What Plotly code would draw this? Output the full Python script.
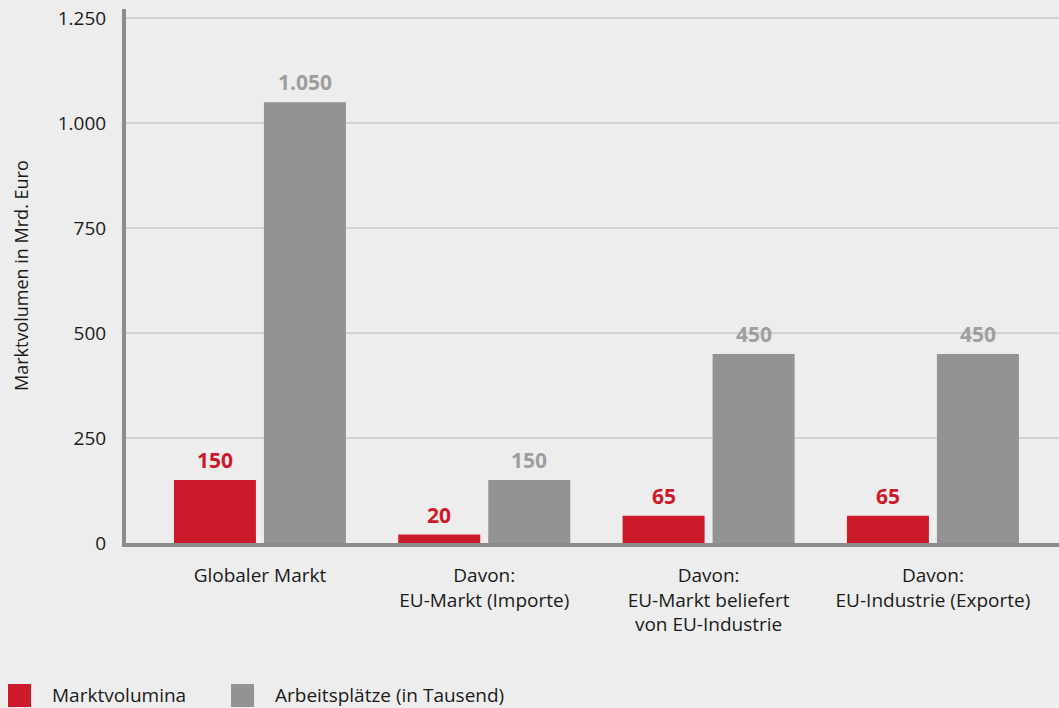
import plotly.graph_objects as go

categories = ["Globaler Markt", "Davon:<br>EU-Markt (Importe)",
              "Davon:<br>EU-Markt beliefert<br>von EU-Industrie",
              "Davon:<br>EU-Industrie (Exporte)"]
markt = [150, 20, 65, 65]
arbeit = [1050, 150, 450, 450]
markt_labels = ["150", "20", "65", "65"]
arbeit_labels = ["1.050", "150", "450", "450"]
ytickvals = [0, 250, 500, 750, 1000, 1250]
yticktext = ["0", "250", "500", "750", "1.000", "1.250"]
series_names = ["Marktvolumina", "Arbeitsplätze (in Tausend)"]

RED = "#cc1a2b"
GRAY = "#939393"
BG = "#ededed"
FONT = "Open Sans"

fig = go.Figure()
fig.add_trace(go.Bar(x=categories, y=markt, name=series_names[0],
                     marker=dict(color=RED, line=dict(width=0))))
fig.add_trace(go.Bar(x=categories, y=arbeit, name=series_names[1],
                     marker=dict(color=GRAY, line=dict(width=0))))

annotations = []
for c, v, t in zip(categories, markt, markt_labels):
    annotations.append(dict(x=c, y=v, xref="x", yref="y", text="<b>%s</b>" % t,
                            showarrow=False, xshift=-45, yshift=4, yanchor="bottom",
                            font=dict(family=FONT, size=21, color=RED)))
for c, v, t in zip(categories, arbeit, arbeit_labels):
    annotations.append(dict(x=c, y=v, xref="x", yref="y", text="<b>%s</b>" % t,
                            showarrow=False, xshift=45, yshift=4, yanchor="bottom",
                            font=dict(family=FONT, size=21, color="#9e9e9e")))

# y-axis title
annotations.append(dict(x=0, y=0.5, xref="paper", yref="paper", xshift=-105,
                        xanchor="center", yanchor="middle",
                        text="Marktvolumen in Mrd. Euro", textangle=-90, showarrow=False,
                        font=dict(family=FONT, size=18, color="#1a1a1a")))

# manual legend
shapes = []
leg_colors = [RED, GRAY]
leg_sq_x = [-118, 105]
leg_txt_x = [-76, 147]
for col, sx, tx, nm in zip(leg_colors, leg_sq_x, leg_txt_x, series_names):
    shapes.append(dict(type="rect", xref="paper", yref="paper", xsizemode="pixel",
                       ysizemode="pixel", xanchor=0, yanchor=0, x0=sx, x1=sx + 23,
                       y0=-164, y1=-141, fillcolor=col, line=dict(width=0)))
    annotations.append(dict(x=0, y=0, xref="paper", yref="paper", xshift=tx, yshift=-152,
                            xanchor="left", yanchor="middle", text=nm, showarrow=False,
                            font=dict(family=FONT, size=19, color="#1a1a1a")))

fig.update_layout(
    width=1059, height=708,
    margin=dict(l=126, r=0, t=9, b=165),
    paper_bgcolor=BG, plot_bgcolor=BG,
    barmode="group", bargap=0.1975, bargroupgap=0.089,
    showlegend=False,
    font=dict(family=FONT, size=19, color="#1a1a1a"),
    annotations=annotations, shapes=shapes,
    xaxis=dict(type="category", range=[-0.597, 3.562], showline=True,
               linecolor="#8c8c8c", linewidth=4, showgrid=False,
               ticks="", ticklabelstandoff=12, tickfont=dict(size=19)),
    yaxis=dict(range=[0, 1272], tickvals=ytickvals, ticktext=yticktext,
               showline=True, linecolor="#8c8c8c", linewidth=4,
               showgrid=True, gridcolor="#d3d3d3", gridwidth=2,
               zeroline=False, ticks="", ticklabelstandoff=12,
               tickfont=dict(size=19)),
)

fig.write_html("out.html")
